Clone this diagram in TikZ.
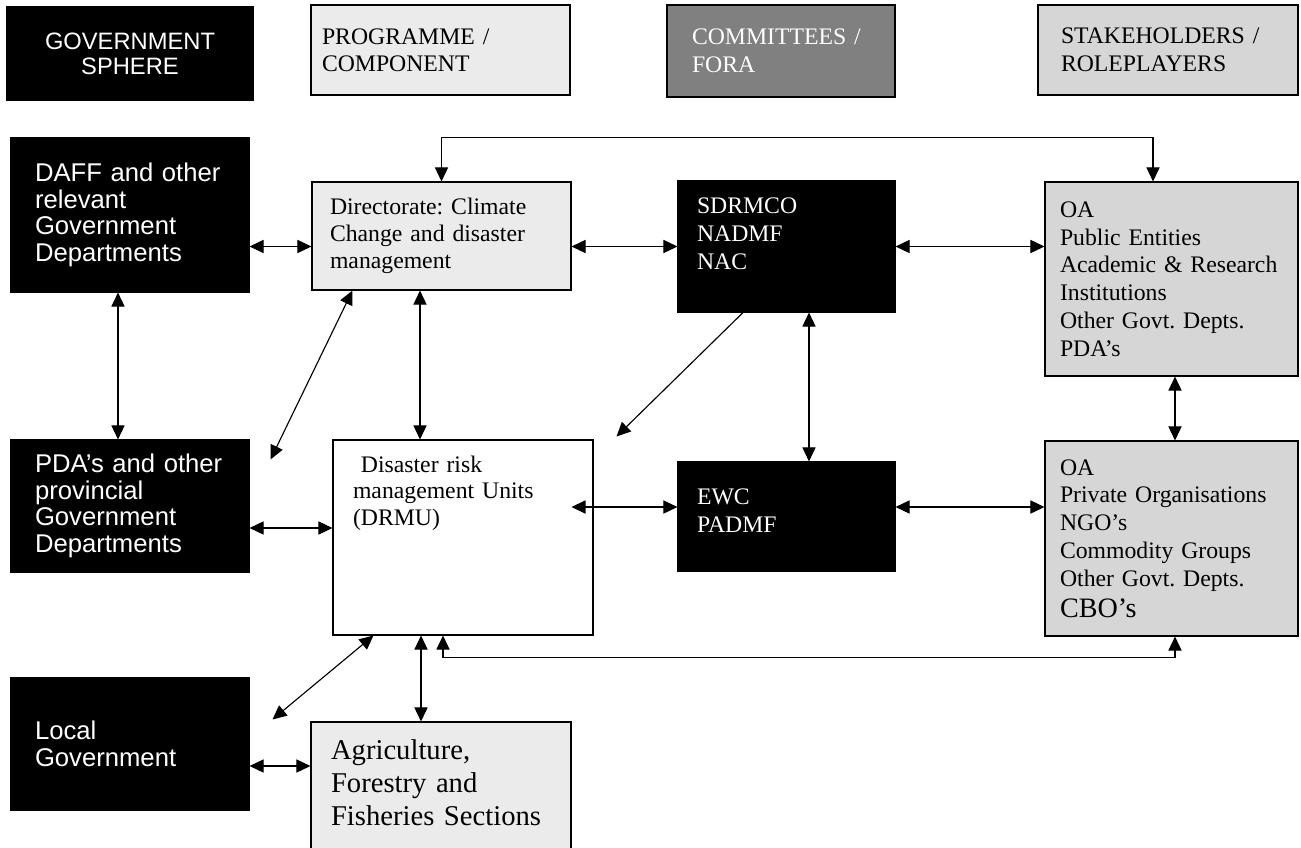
\documentclass[tikz,border=0pt]{standalone}
\usepackage{fontspec}
\setmainfont{Liberation Serif}
\newfontfamily\arialfont{Liberation Sans}
\usetikzlibrary{arrows.meta}
\definecolor{progfill}{gray}{0.92}
\definecolor{rolefill}{gray}{0.84}
\definecolor{forafill}{gray}{0.50}
\frenchspacing
\begin{document}
\begin{tikzpicture}[x=0.02cm, y=-0.02cm, >={Triangle[length=8pt,width=7.5pt]}, line width=0.65pt,
  govbox/.style={fill=black, draw=black, text=white, align=left, inner xsep=0.48cm, text width=3.8cm,
    minimum height=2.64cm, font=\arialfont\fontsize{14.6pt}{15.2pt}\selectfont},
  progbox/.style={fill=progfill, draw=black, align=left, font=\fontsize{13.5pt}{15.2pt}\selectfont},
  forumbox/.style={fill=black, draw=black, text=white, align=left, inner xsep=0.38cm, text width=3.58cm,
    inner ysep=0pt, font=\fontsize{13.5pt}{16pt}\selectfont},
  rolebox/.style={fill=rolefill, draw=black, align=left, inner xsep=0.3cm, text width=4.46cm,
    font=\fontsize{13.5pt}{15.8pt}\selectfont}]
\useasboundingbox (0,0) rectangle (1301,848);

\node[govbox, align=center, text width=, inner xsep=0pt, minimum width=4.92cm, minimum height=1.86cm,
  font=\arialfont\fontsize{13.5pt}{14.2pt}\selectfont] (legGov) at (130,53.5) {GOVERNMENT\\SPHERE};
\node[progbox, inner xsep=0.22cm, text width=4.74cm, minimum height=1.8cm] (legProg) at (440.5,50) {PROGRAMME~/\\COMPONENT};
\node[forumbox, fill=forafill, inner xsep=0.5cm, text width=3.56cm, minimum height=1.84cm] (legFora) at (781,51) {COMMITTEES~/\\FORA};
\node[rolebox, inner xsep=0.46cm, text width=4.28cm, minimum height=1.8cm] (legRole) at (1168,50) {STAKEHOLDERS~/\\ROLEPLAYERS};

\node[govbox, minimum height=3.08cm] (daff) at (130,215) {DAFF and other\\relevant\\Government\\Departments};
\node[govbox] (pda) at (130,506) {PDA’s and other\\provincial\\Government\\Departments};
\node[govbox] (local) at (130,744) {Local\\Government};

\node[progbox, inner xsep=0.36cm, text width=4.46cm, minimum height=2.16cm] (dir) at (441.5,236) {Directorate: Climate\\Change and disaster\\management};
\node[progbox, fill=white, inner xsep=0.4cm, text width=4.4cm, inner ysep=0pt, text height=0.64cm, text depth=3.26cm] (drmu) at (463,537.5) {\ Disaster risk\\management Units\\(DRMU)};
\node[progbox, inner xsep=0.4cm, text width=4.4cm, inner ysep=0pt, text height=0.75cm, text depth=2.21cm,
  font=\fontsize{16.3pt}{18.7pt}\selectfont] (agri) at (441,796) {Agriculture,\\Forestry and\\Fisheries Sections};

\node[forumbox, text height=0.64cm, text depth=1.98cm] (sdr) at (786.5,246.5) {SDRMCO\\NADMF\\NAC};
\node[forumbox, text height=0.84cm, text depth=1.34cm] (ewc) at (786.5,516.5) {EWC\\PADMF};

\node[rolebox, minimum height=3.88cm] (stake1) at (1171.5,279) {OA\\Public Entities\\Academic \& Research\\Institutions\\Other Govt. Depts.\\PDA’s};
\node[rolebox, minimum height=3.9cm] (stake2) at (1171.5,538.5) {OA\\Private Organisations\\NGO’s\\Commodity Groups\\Other Govt. Depts.\\[2pt]{\fontsize{16pt}{19pt}\selectfont CBO’s}};

\draw[<->] (dir.north) -- ++(0,-44) -| ([xshift=-0.37cm]stake1.north);
\draw[<->] (daff.east |- sdr.west) -- (dir.west |- sdr.west);
\draw[<->] (dir.east |- sdr.west) -- (sdr.west);
\draw[<->] (sdr.east) -- (stake1.west |- sdr.east);
\draw[<->] ([xshift=-0.24cm]daff.south) -- ([xshift=-0.24cm]pda.north);
\draw[<->] ([xshift=0.82cm]dir.south west) -- ([xshift=0.42cm,yshift=-0.4cm]pda.north east);
\draw[<->] ([xshift=-0.43cm]dir.south) -- ([xshift=-0.43cm]dir.south |- drmu.north);
\draw[->] ([xshift=-0.87cm]sdr.south) -- ([xshift=0.46cm,yshift=0.06cm]drmu.north east);
\draw[<->] ([xshift=0.45cm]sdr.south) -- ([xshift=0.45cm]ewc.north);
\draw[<->] ([xshift=0.07cm]stake1.south) -- ([xshift=0.07cm]stake2.north);
\draw[<->] ([yshift=-0.44cm]pda.east) -- ([yshift=-0.44cm]pda.east -| drmu.west);
\draw[<->] ([yshift=0.19cm]ewc.west) -- ++(-106,0);
\draw[<->] ([yshift=0.19cm]ewc.east) -- ([yshift=0.19cm]ewc.east -| stake2.west);
\draw[<->] ([xshift=-0.4cm]drmu.south) -- ++(0,22) -| ([xshift=0.07cm]stake2.south);
\draw[<->] ([xshift=0.82cm]drmu.south west) -- ([xshift=0.46cm,yshift=-0.84cm]local.north east);
\draw[<->] ([xshift=-0.84cm]drmu.south) -- ([xshift=-0.84cm]drmu.south |- agri.north);
\draw[<->] ([yshift=-0.44cm]local.east) -- ([yshift=-0.44cm]local.east -| agri.west);

\end{tikzpicture}
\end{document}
